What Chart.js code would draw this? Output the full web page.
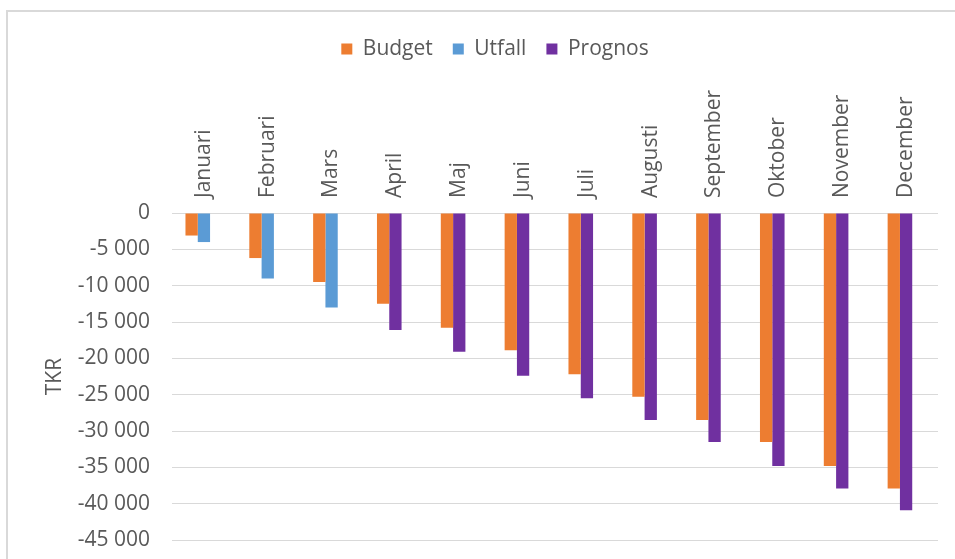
<!DOCTYPE html>
<html>
<head>
<meta charset="utf-8">
<script src="https://cdn.jsdelivr.net/npm/chart.js@4/dist/chart.umd.min.js"></script>
<style>
  html, body { margin: 0; padding: 0; background: #ffffff; overflow: hidden; }
  #wrap { position: relative; width: 955px; height: 559px; overflow: hidden; }
  #frame { position: absolute; left: 6px; top: 10px; width: 1000px; height: 600px; border: 2px solid #d9d9d9; box-sizing: border-box; }
  #c { position: absolute; left: 0; top: 0; }
</style>
</head>
<body>
<div id="wrap">
  <div id="frame"></div>
  <canvas id="c" width="955" height="559"></canvas>
</div>
<script>
const categories = ["Januari", "Februari", "Mars", "April", "Maj", "Juni", "Juli", "Augusti", "September", "Oktober", "November", "December"];
const budget  = [-3100, -6200, -9500, -12500, -15800, -18900, -22200, -25300, -28500, -31500, -34800, -37900];
const utfall  = [-4000, -9000, -13000, null, null, null, null, null, null, null, null, null];
const prognos = [null, null, null, -16100, -19100, -22400, -25500, -28500, -31500, -34800, -37900, -40900];
const yTicks  = [0, -5000, -10000, -15000, -20000, -25000, -30000, -35000, -40000, -45000];
const yTitle  = "TKR";

const TEXT = "#595959";
const FONT = "'Open Sans', sans-serif";
const FS = 21;

function fmt(v) {
  const s = String(Math.abs(v)).replace(/\B(?=(\d{3})+(?!\d))/g, " ");
  return (v < 0 ? "-" : "") + s;
}

new Chart(document.getElementById("c"), {
  type: "bar",
  data: {
    labels: categories,
    datasets: [
      { label: "Budget",  data: budget,  backgroundColor: "#ED7D31", stack: "a" },
      { label: "Utfall",  data: utfall,  backgroundColor: "#5B9BD5", stack: "b" },
      { label: "Prognos", data: prognos, backgroundColor: "#7030A0", stack: "b" },
      { label: "",        data: [],      backgroundColor: "rgba(0,0,0,0)", stack: "c" }
    ]
  },
  options: {
    responsive: false,
    animation: false,
    devicePixelRatio: 1,
    layout: { padding: { top: 18.5, left: 52, right: 17, bottom: 19 } },
    datasets: { bar: { categoryPercentage: 0.578, barPercentage: 1, borderWidth: 0 } },
    plugins: {
      tooltip: { enabled: false },
      legend: {
        position: "top",
        labels: {
          font: { family: FONT, size: FS },
          color: TEXT,
          boxWidth: 11,
          boxHeight: 11,
          padding: 20,
          filter: (item) => item.text !== ""
        }
      }
    },
    scales: {
      x: {
        position: "top",
        stacked: true,
        grid: { display: false, drawTicks: false, tickLength: 0 },
        border: { display: false },
        ticks: {
          font: { family: FONT, size: FS },
          color: TEXT,
          minRotation: 90,
          maxRotation: 90,
          padding: 15,
          labelOffset: 25,
          autoSkip: false
        },
        afterFit: (s) => { s.height = 143.5; s.paddingTop = 0; s.paddingBottom = 0; }
      },
      y: {
        stacked: true,
        min: -45000,
        max: 0,
        afterBuildTicks: (s) => { s.ticks = yTicks.map(v => ({ value: v })); },
        grid: { color: "#d9d9d9", lineWidth: 1, drawTicks: false, tickLength: 0 },
        border: { display: false },
        ticks: {
          font: { family: FONT, size: FS },
          color: TEXT,
          padding: 22,
          callback: (v) => fmt(v)
        },
        title: {
          display: true,
          text: yTitle,
          font: { family: FONT, size: FS },
          color: TEXT,
          padding: { top: -10, bottom: 0 }
        },
        afterFit: (s) => { s.width = 120; s.paddingTop = 0; s.paddingBottom = 0; }
      }
    }
  }
});
</script>
</body>
</html>
